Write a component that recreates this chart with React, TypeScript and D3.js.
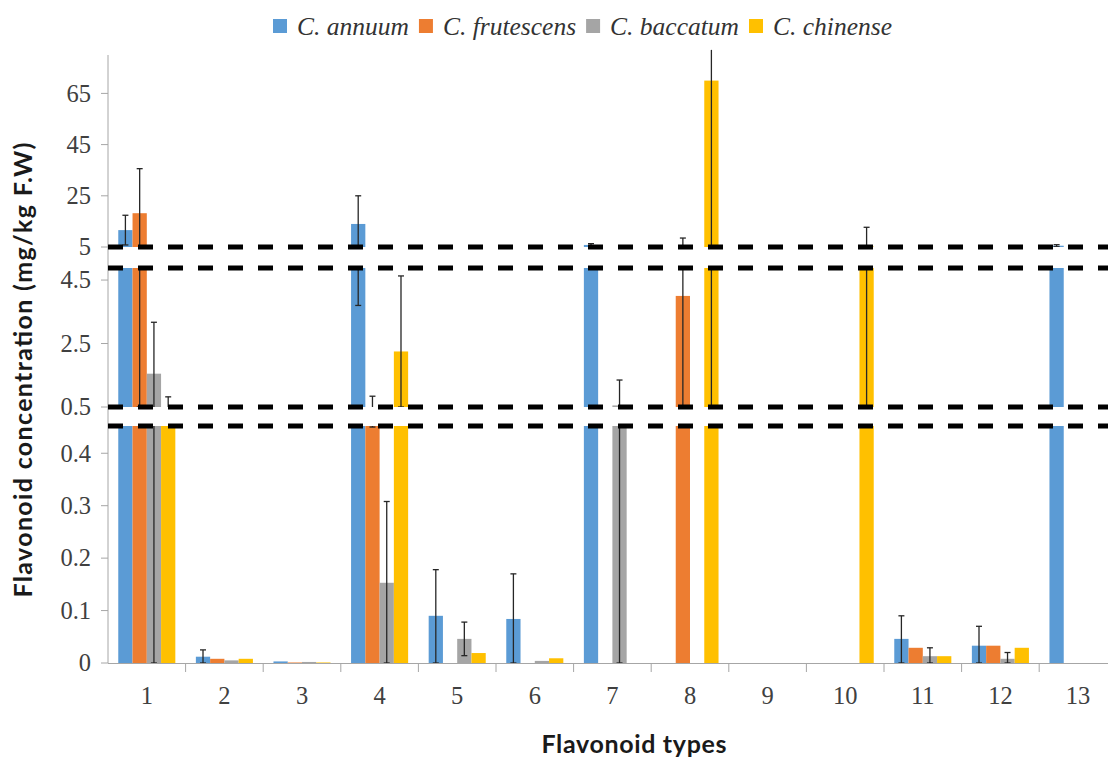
import { useEffect, useRef } from "react";
import * as d3 from "d3";

const categories = ["1", "2", "3", "4", "5", "6", "7", "8", "9", "10", "11", "12", "13"];
const speciesNames = ["C. annuum", "C. frutescens", "C. baccatum", "C. chinense"];
const speciesColors = ["#5b9bd5", "#ed7d31", "#a5a5a5", "#ffc000"];

// values (mg/kg F.W)
const annuum = [11.6, 0.012, 0.003, 14.0, 0.09, 0.084, 5.8, 0, 0, 0, 0.046, 0.033, 5.5];
const annuumErrUp = [5.8, 0.013, 0, 11, 0.088, 0.086, 0.5, 0, 0, 0, 0.044, 0.037, 0.4];
const annuumErrDown = [5.8, 0.012, 0, 10.3, 0.09, 0.084, 0.5, 0, 0, 0, 0.046, 0.033, 0.4];

const frutescens = [18.2, 0.008, 0.001, 0.47, 0, 0, 0, 4.0, 0, 0, 0.029, 0.033, 0];
const frutescensErrUp = [17.4, 0, 0, 0.37, 0, 0, 0, 4.5, 0, 0, 0, 0, 0];
const frutescensErrDown = [17.7, 0, 0, 0.02, 0, 0, 0, 3.5, 0, 0, 0, 0, 0];

const baccatum = [1.55, 0.005, 0.002, 0.153, 0.046, 0.004, 0.55, 0, 0, 0, 0.013, 0.008, 0];
const baccatumErrUp = [1.62, 0, 0, 0.155, 0.032, 0, 0.8, 0, 0, 0, 0.016, 0.012, 0];
const baccatumErrDown = [1.55, 0, 0, 0.153, 0.032, 0, 0.55, 0, 0, 0, 0.013, 0.008, 0];

const chinense = [0.48, 0.008, 0.001, 2.25, 0.019, 0.009, 0, 70, 0, 5.2, 0.013, 0.029, 0];
const chinenseErrUp = [0.34, 0, 0, 2.38, 0, 0, 0, 12, 0, 7.5, 0, 0, 0];
const chinenseErrDown = [0.02, 0, 0, 1.75, 0, 0, 0, 69.5, 0, 4.7, 0, 0, 0];

// broken y axis: three pieces
const bottomTicks = [0, 0.1, 0.2, 0.3, 0.4];
const middleTicks = [0.5, 2.5, 4.5];
const topTicks = [5, 25, 45, 65];

const W = 1108,
  H = 758;

const App = () => {
  const ref = useRef<SVGSVGElement>(null);

  useEffect(() => {
    document.body.style.margin = "0";
    const svg = d3.select(ref.current);
    svg.selectAll("*").remove();

    const left = 108;
    const values = [annuum, frutescens, baccatum, chinense];
    const errUp = [annuumErrUp, frutescensErrUp, baccatumErrUp, chinenseErrUp];
    const errDown = [annuumErrDown, frutescensErrDown, baccatumErrDown, chinenseErrDown];

    const x0 = d3
      .scaleBand()
      .domain(categories)
      .range([left, left + 13 * 77.6])
      .padding(0);
    const x1 = d3
      .scaleBand()
      .domain(speciesNames)
      .range([0, x0.bandwidth()])
      .paddingInner(0)
      .paddingOuter(0.72);

    const segments = [
      { lo: 0, hi: 0.452, y0: 663, y1: 426, ticks: bottomTicks, clipTop: 426 },
      { lo: 0.5, hi: 4.88, y0: 407, y1: 268, ticks: middleTicks, clipTop: 268 },
      { lo: 5, hi: 80, y0: 247, y1: 55, ticks: topTicks, clipTop: 46 },
    ];

    const defs = svg.append("defs");
    const fontSerif = "'Liberation Serif', 'Times New Roman', serif";

    segments.forEach((seg, si) => {
      const y = d3.scaleLinear().domain([seg.lo, seg.hi]).range([seg.y0, seg.y1]);
      defs
        .append("clipPath")
        .attr("id", `seg-${si}`)
        .append("rect")
        .attr("x", left)
        .attr("y", seg.clipTop)
        .attr("width", W - left)
        .attr("height", seg.y0 - seg.clipTop);

      const g = svg.append("g").attr("clip-path", `url(#seg-${si})`);

      speciesNames.forEach((name, k) => {
        categories.forEach((cat, i) => {
          const v = values[k][i];
          if (v <= seg.lo) return;
          const top = y(Math.min(v, seg.hi + 5));
          g.append("rect")
            .attr("x", (x0(cat) as number) + (x1(name) as number))
            .attr("y", top)
            .attr("width", x1.bandwidth())
            .attr("height", y(seg.lo) - top)
            .attr("fill", speciesColors[k]);
        });
      });

      speciesNames.forEach((name, k) => {
        categories.forEach((cat, i) => {
          const v = values[k][i];
          const up = errUp[k][i];
          const down = errDown[k][i];
          if (up === 0 && down === 0) return;
          const a = v - down;
          const b = v + up;
          if (b <= seg.lo || a >= seg.hi) return;
          const cx = (x0(cat) as number) + (x1(name) as number) + x1.bandwidth() / 2;
          const ya = y(Math.max(a, seg.lo));
          const yb = y(Math.min(b, seg.hi + 4));
          g.append("line")
            .attr("x1", cx)
            .attr("x2", cx)
            .attr("y1", ya)
            .attr("y2", yb)
            .attr("stroke", "#262626")
            .attr("stroke-width", 1.3);
          const caps: number[] = [];
          if (b <= seg.hi && up > 0) caps.push(b);
          if (a >= seg.lo && down > 0) caps.push(a);
          caps.forEach((c) => {
            g.append("line")
              .attr("x1", cx - 3)
              .attr("x2", cx + 3)
              .attr("y1", y(c))
              .attr("y2", y(c))
              .attr("stroke", "#262626")
              .attr("stroke-width", 1.3);
          });
        });
      });

      // tick marks + labels for this piece
      const tg = svg.append("g");
      seg.ticks.forEach((t) => {
        tg.append("line")
          .attr("x1", left - 7)
          .attr("x2", left)
          .attr("y1", y(t))
          .attr("y2", y(t))
          .attr("stroke", "#a6a6a6");
        tg.append("text")
          .attr("x", left - 17)
          .attr("y", y(t))
          .attr("dy", "0.34em")
          .attr("text-anchor", "end")
          .attr("font-family", fontSerif)
          .attr("font-size", 24.5)
          .attr("fill", "#404040")
          .text(String(t));
      });
    });

    // axes
    svg
      .append("line")
      .attr("x1", left)
      .attr("x2", left)
      .attr("y1", 55)
      .attr("y2", 663)
      .attr("stroke", "#a6a6a6");
    svg
      .append("line")
      .attr("x1", left)
      .attr("x2", W)
      .attr("y1", 663.5)
      .attr("y2", 663.5)
      .attr("stroke", "#a6a6a6");
    categories.forEach((cat, i) => {
      const bx = x0(cat) as number;
      if (i > 0) {
        svg
          .append("line")
          .attr("x1", bx)
          .attr("x2", bx)
          .attr("y1", 663)
          .attr("y2", 672)
          .attr("stroke", "#a6a6a6");
      }
      svg
        .append("text")
        .attr("x", bx + x0.bandwidth() / 2)
        .attr("y", 704)
        .attr("text-anchor", "middle")
        .attr("font-family", fontSerif)
        .attr("font-size", 24.5)
        .attr("fill", "#404040")
        .text(cat);
    });

    // break lines
    [247, 268, 407, 426].forEach((yy) => {
      svg
        .append("line")
        .attr("x1", left)
        .attr("x2", W)
        .attr("y1", yy)
        .attr("y2", yy)
        .attr("stroke", "#000")
        .attr("stroke-width", 5)
        .attr("stroke-dasharray", "15,15");
    });

    // axis titles
    const fontSans = "Lato, 'Open Sans', sans-serif";
    svg
      .append("text")
      .attr("transform", "translate(32,370) rotate(-90)")
      .attr("text-anchor", "middle")
      .attr("font-family", fontSans)
      .attr("font-weight", "bold")
      .attr("font-size", 25)
      .attr("textLength", 455)
      .attr("fill", "#1a1a1a")
      .text("Flavonoid concentration (mg/kg F.W)");
    svg
      .append("text")
      .attr("x", 634)
      .attr("y", 753)
      .attr("text-anchor", "middle")
      .attr("font-family", fontSans)
      .attr("font-weight", "bold")
      .attr("font-size", 25)
      .attr("textLength", 185)
      .attr("fill", "#1a1a1a")
      .text("Flavonoid types");

    // legend
    const lg = svg.append("g");
    let lx = 273;
    speciesNames.forEach((name, k) => {
      lg.append("rect")
        .attr("x", lx)
        .attr("y", 19)
        .attr("width", 14)
        .attr("height", 14)
        .attr("fill", speciesColors[k]);
      const t = lg
        .append("text")
        .attr("x", lx + 24)
        .attr("y", 35)
        .attr("font-family", fontSerif)
        .attr("font-style", "italic")
        .attr("font-size", 25.5)
        .attr("fill", "#333")
        .text(name);
      const w = (t.node() as SVGTextElement).getComputedTextLength();
      lx += 24 + w + 10;
    });
  }, []);

  return <svg ref={ref} width={W} height={H} style={{ display: "block", background: "#fff" }} />;
};

export default App;
